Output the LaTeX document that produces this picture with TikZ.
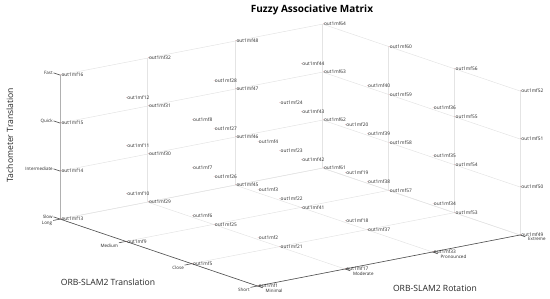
\documentclass[tikz,border=0pt]{standalone}
\usepackage{fontspec}
\setmainfont{Open Sans}
\definecolor{Grid}{HTML}{E4E4E4}
\definecolor{Axis}{HTML}{505050}
\definecolor{Label}{HTML}{262626}
\definecolor{Dot}{HTML}{A83232}
\tikzset{
  mf/.style={anchor=west,inner sep=0pt,font=\fontsize{4.8}{6}\selectfont,text=Label},
  ticklab/.style={font=\fontsize{4.5}{5}\selectfont,text=Label,inner sep=.6pt},
  gridline/.style={draw=Grid,line width=.5pt},
  axisline/.style={draw=Axis,line width=.6pt},
  axislab/.style={font=\fontsize{8.6}{10}\selectfont,text=black!85}
}

\begin{document}
\begin{tikzpicture}[x=1pt,y=1pt]
  \useasboundingbox (0,0) rectangle (550,298);
  \node[font=\bfseries\fontsize{10}{12}\selectfont] (title) at (312,288) {Fuzzy Associative Matrix};
  \node[axislab] (xlab) at (108,16) {ORB-SLAM2 Translation};
  \node[axislab] (ylab) at (435,10) {ORB-SLAM2 Rotation};
  \node[axislab,rotate=90] (zlab) at (10,163) {Tachometer Translation};
  \begin{scope}[shift={(257.5,12)},x={(87.5pt,17pt)},y={(-65.8pt,22.3pt)},z={(0pt,48pt)}]
    \foreach \r in {0,...,3}
      \foreach \t in {0,...,3}
        \foreach \s in {0,...,3}{
          \pgfmathtruncatemacro\n{16*\r+4*\t+\s+1}
          \coordinate (c\n) at (\r,\t,\s);
        }
    % floor and back walls
    \foreach \i in {0,...,3}{
      \pgfmathtruncatemacro\a{4*\i+1}\pgfmathtruncatemacro\b{4*\i+49}
      \draw[gridline] (c\a) -- (c\b);
      \pgfmathtruncatemacro\a{16*\i+1}\pgfmathtruncatemacro\b{16*\i+13}
      \draw[gridline] (c\a) -- (c\b);
      \pgfmathtruncatemacro\a{13+\i}\pgfmathtruncatemacro\b{61+\i}
      \draw[gridline] (c\a) -- (c\b);
      \pgfmathtruncatemacro\a{16*\i+13}\pgfmathtruncatemacro\b{16*\i+16}
      \draw[gridline] (c\a) -- (c\b);
      \pgfmathtruncatemacro\a{49+\i}\pgfmathtruncatemacro\b{61+\i}
      \draw[gridline] (c\a) -- (c\b);
      \pgfmathtruncatemacro\a{49+4*\i}\pgfmathtruncatemacro\b{52+4*\i}
      \draw[gridline] (c\a) -- (c\b);
    }
    \draw[axisline] (c13) -- (c1) -- (c49);
    \draw[axisline,draw=Axis!45] (c13) -- (c16);
    % ticks
    \foreach \s/\lab in {0/Slow,1/Intermediate,2/Quick,3/Fast}{
      \pgfmathtruncatemacro\n{13+\s}
      \draw[axisline] (c\n) -- ++(0,0.1,0) node[ticklab,anchor=east] (ts\s) {\lab};
    }
    \foreach \t/\lab in {0/Short,1/Close,2/Medium,3/Long}{
      \pgfmathtruncatemacro\n{4*\t+1}
      \draw[axisline] (c\n) -- ++(-0.08,0,0) node[ticklab,anchor=north east] (tt\t) {\lab};
    }
    \foreach \r/\lab in {0/Minimal,1/Moderate,2/Pronounced,3/Extreme}{
      \pgfmathtruncatemacro\n{16*\r+1}
      \draw[axisline] (c\n) -- ++(0,-0.08,0) node[ticklab,anchor=north west,xshift=2pt] (tr\r) {\lab};
    }
    \foreach \n in {1,...,64}
      \node[mf] (m\n) at (c\n) {{\color{Dot}·}out1mf\n};
  \end{scope}
\end{tikzpicture}
\end{document}
